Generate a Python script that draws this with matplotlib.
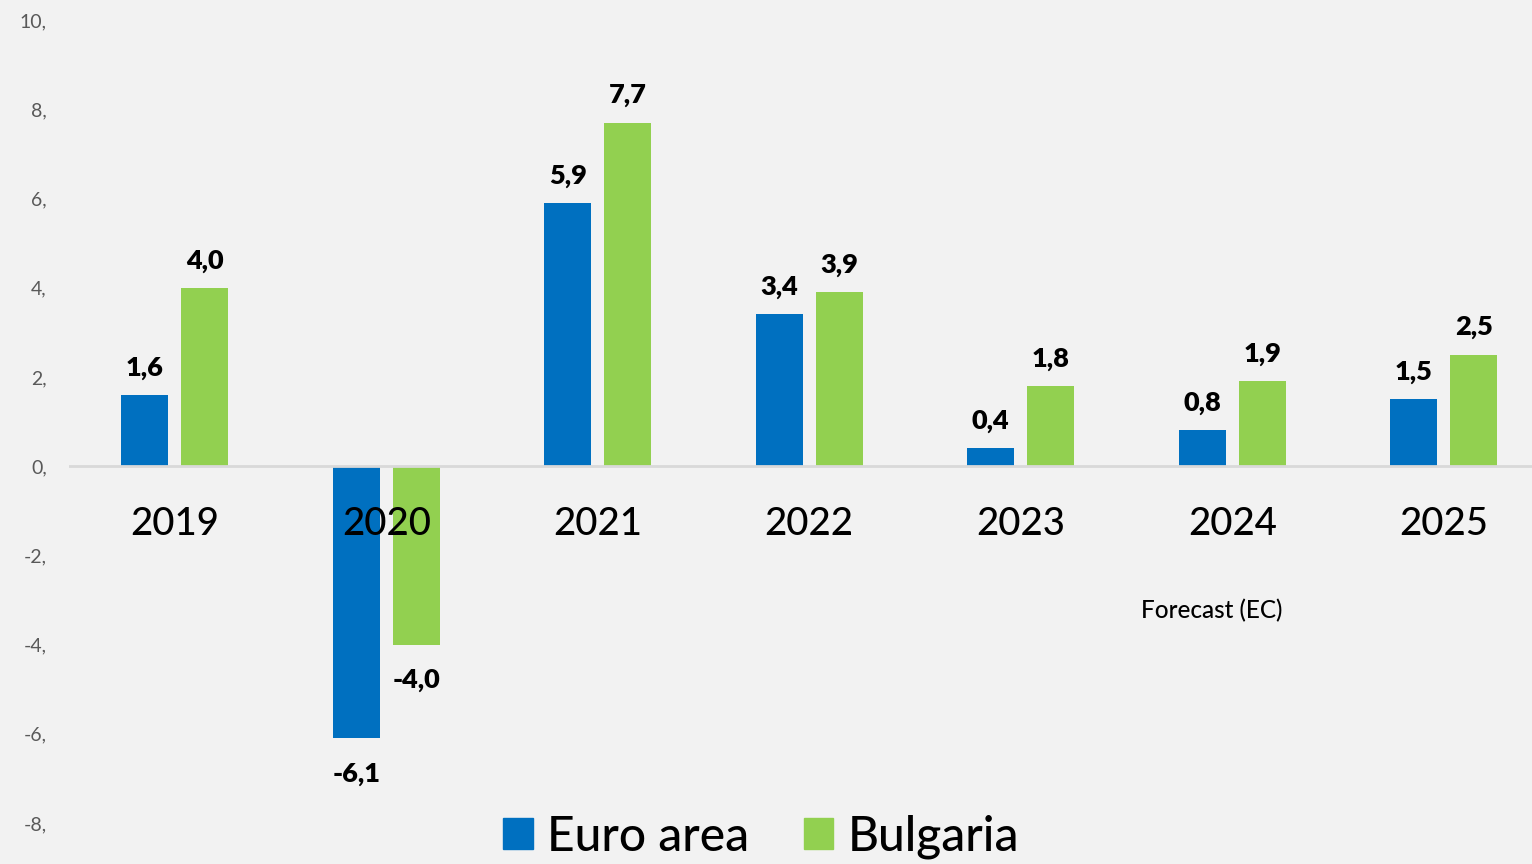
import numpy as np
import matplotlib
matplotlib.use("Agg")
import matplotlib.pyplot as plt
from matplotlib.ticker import FuncFormatter
from matplotlib.patches import Patch

years = ["2019", "2020", "2021", "2022", "2023", "2024", "2025"]
euro_area = [1.6, -6.1, 5.9, 3.4, 0.4, 0.8, 1.5]
bulgaria = [4.0, -4.0, 7.7, 3.9, 1.8, 1.9, 2.5]
series_names = ["Euro area", "Bulgaria"]
y_ticks = [-8, -6, -4, -2, 0, 2, 4, 6, 8, 10]
note = "Forecast (EC)"

BLUE = "#0070C0"
GREEN = "#92D050"
BG = "#F2F2F2"

plt.rcParams["font.family"] = ["Lato", "DejaVu Sans"]

W, H = 1532, 864
fig = plt.figure(figsize=(W / 100, H / 100), dpi=100, facecolor=BG)
# axes: left edge at px 69, y=10 at px 20, y=-8 at px 823
ax = fig.add_axes([69 / W, 1 - 823 / H, 1 - 69 / W, (823 - 20) / H])
ax.set_facecolor(BG)

x = np.arange(len(years))
bw = 0.222
off = 0.142
b1 = ax.bar(x - off, euro_area, bw, color=BLUE, zorder=2)
b2 = ax.bar(x + off, bulgaria, bw, color=GREEN, zorder=2)

cat_px = 211.5
ax.set_xlim(-0.5, -0.5 + (W - 69) / cat_px)
ax.set_ylim(-8, 10)
ax.set_yticks(y_ticks)
ax.yaxis.set_major_formatter(FuncFormatter(lambda v, p: f"{int(v)},"))
ax.tick_params(axis="y", length=0, pad=16, labelsize=14, labelcolor="#595959")
ax.set_xticks([])
for s in ax.spines.values():
    s.set_visible(False)
ax.axhline(0, color="#D9D9D9", lw=2, zorder=3)

# category labels sit just under the zero line
for xi, yr in zip(x, years):
    ax.text(xi, -1.55, yr, ha="center", va="baseline", fontsize=27.5, color="black",
            fontweight="medium", zorder=4)

def fmt(v):
    return f"{v:.1f}".replace(".", ",")

for bars, vals in ((b1, euro_area), (b2, bulgaria)):
    for rect, v in zip(bars, vals):
        cx = rect.get_x() + rect.get_width() / 2
        if v >= 0:
            ax.annotate(fmt(v), (cx, v), xytext=(0, 14), textcoords="offset points",
                        ha="center", va="baseline", fontsize=19.5, fontweight="heavy")
        else:
            ax.annotate(fmt(v), (cx, v), xytext=(0, -31), textcoords="offset points",
                        ha="center", va="baseline", fontsize=19.5, fontweight="heavy")

fig.text(1212 / W, 1 - 618 / H, note, ha="center", va="baseline", fontsize=17.5,
         color="black", fontweight="medium")

handles = [Patch(color=BLUE), Patch(color=GREEN)]
fig.legend(handles, series_names, loc="lower center", bbox_to_anchor=(0.497, -0.022),
           ncol=2, frameon=False, handlelength=0.61, handleheight=0.61,
           handletextpad=0.3, columnspacing=1.15, borderpad=0,
           prop={"size": 34.5, "weight": "medium"})

fig.savefig("out.png", dpi=100, facecolor=BG)
